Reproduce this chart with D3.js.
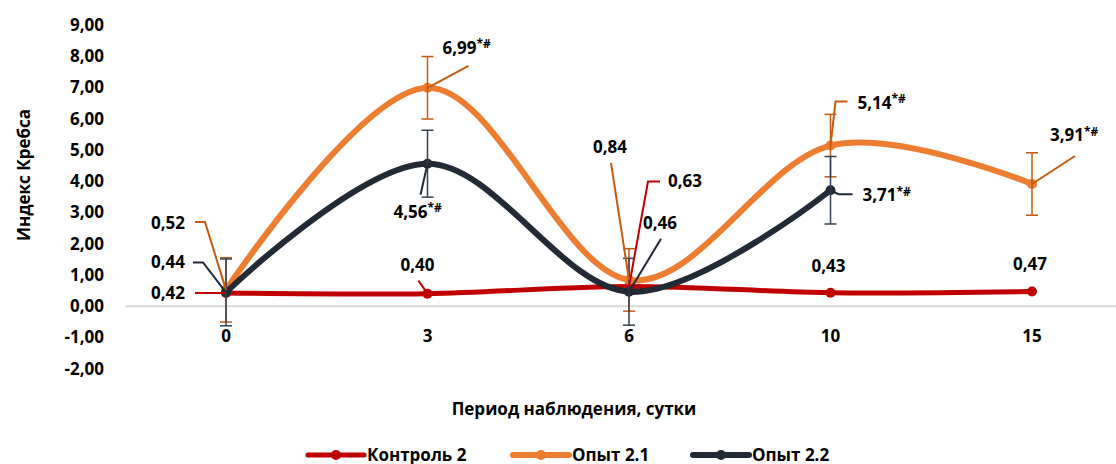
<!DOCTYPE html>
<html>
<head>
<meta charset="utf-8">
<script src="https://cdn.jsdelivr.net/npm/d3@7"></script>
<style>
  body { margin: 0; background: #fff; }
  text { font-family: "Open Sans", "DejaVu Sans", sans-serif; font-weight: bold; fill: #000; }
</style>
</head>
<body>
<div id="vis"></div>
<script>
// data
const days = ['0', '3', '6', '10', '15'];
const control2 = [0.42, 0.40, 0.63, 0.43, 0.47];
const exp21 = [0.52, 6.99, 0.84, 5.14, 3.91];
const exp22 = [0.44, 4.56, 0.46, 3.71, null];
const exp21Err = [1.03, 1.0, 1.0, 1.0, 1.0];
const exp22Err = [1.07, 1.07, 1.07, 1.08, null];
const yTicks = [-2, -1, 0, 1, 2, 3, 4, 5, 6, 7, 8, 9];
const control2Labels = ['0,42', '0,40', '0,63', '0,43', '0,47'];
const exp21Labels = ['0,52', '6,99', '0,84', '5,14', '3,91'];
const exp22Labels = ['0,44', '4,56', '0,46', '3,71', null];
const exp21Marks = [false, true, false, true, true];
const exp22Marks = [false, true, false, true, false];

const W = 1116, H = 464;
// excel style: comma decimal, plain hyphen minus
const fmt = v => d3.format('.2f')(v).replace('.', ',').replace('\u2212', '-');

const svg = d3.select('#vis')
  .append('svg')
  .attr('width', W)
  .attr('height', H);

// scales
const xScale = d3.scalePoint()
  .domain(days)
  .range([226, 1032]);

const yScale = d3.scaleLinear()
  .domain([-2, 9])
  .range([368.6, 25]);

// zero line
svg.append('line')
  .attr('x1', 125).attr('x2', W)
  .attr('y1', yScale(0)).attr('y2', yScale(0))
  .attr('stroke', '#d9d9d9')
  .attr('stroke-width', 2);

// y tick labels
svg.selectAll('.ytick')
  .data(yTicks)
  .join('text')
  .attr('class', 'ytick')
  .attr('x', 104)
  .attr('y', d => yScale(d))
  .attr('dy', '0.35em')
  .attr('text-anchor', 'end')
  .style('font-size', '17px')
  .text(d => fmt(d));

// x tick labels
svg.selectAll('.xtick')
  .data(days)
  .join('text')
  .attr('class', 'xtick')
  .attr('x', d => xScale(d))
  .attr('y', 336)
  .attr('dy', '0.35em')
  .attr('text-anchor', 'middle')
  .style('font-size', '17px')
  .text(d => d);

// axis titles
svg.append('text')
  .attr('x', 574)
  .attr('y', 409)
  .attr('dy', '0.35em')
  .attr('text-anchor', 'middle')
  .style('font-size', '17px')
  .text('Период наблюдения, сутки');

svg.append('text')
  .attr('transform', 'translate(24,175) rotate(-90)')
  .attr('dy', '0.35em')
  .attr('text-anchor', 'middle')
  .style('font-size', '17px')
  .text('Индекс Кребса');

const series = [
  {name: 'Контроль 2', values: control2, err: null, color: '#c00000', lead: '#c00000', bar: '#c00000', width: 5,
   labels: control2Labels, marks: [false, false, false, false, false]},
  {name: 'Опыт 2.1', values: exp21, err: exp21Err, color: '#ed7d31', lead: '#c55a11', bar: '#c55a11', width: 6,
   labels: exp21Labels, marks: exp21Marks},
  {name: 'Опыт 2.2', values: exp22, err: exp22Err, color: '#222a35', lead: '#222a35', bar: '#333f50', width: 6,
   labels: exp22Labels, marks: exp22Marks}
];

// label placement, offsets in px from the point: [text dx, text dy, anchor, leader points]
const labelLayout = [
  [[-41, 0, 'end', [[-31, 0], [0, 0]]],
   [-10, -29, 'middle', [[-9, -13], [0, 0]]],
   [39, -105, 'start', [[31, -105], [19, -105], [0, 0]]],
   [-2, -27, 'middle', null],
   [-2, -27, 'middle', null]],
  [[-41, -67, 'end', [[-31, -68], [-21, -68], [0, 0]]],
   [15, -40, 'start', [[41, -22], [0, 0]]],
   [-19, -133, 'middle', [[-18, -117], [0, 0]]],
   [27, -43, 'start', [[17, -44], [5, -44], [0, 0]]],
   [18, -49, 'start', [[43, -28], [0, 0]]]],
  [[-41, -30, 'end', [[-33, -30], [-23, -30], [0, 0]]],
   [-34, 48, 'start', [[-7, 31], [0, 0]]],
   [14, -69, 'start', [[32, -53], [0, 0]]],
   [32, 5, 'start', [[22, 4], [8, 4], [0, 0]]],
   null]
];

const line = d3.line()
  .defined(d => d.v != null)
  .x(d => xScale(d.day))
  .y(d => yScale(d.v))
  .curve(d3.curveCardinal.tension(0));

series.forEach((s, si) => {
  const pts = s.values.map((v, i) => ({day: days[i], v: v, e: s.err ? s.err[i] : null}))
    .filter(d => d.v != null);
  const g = svg.append('g');

  g.append('path')
    .datum(pts)
    .attr('d', line)
    .attr('fill', 'none')
    .attr('stroke', s.color)
    .attr('stroke-width', s.width)
    .attr('stroke-linecap', 'round');

  g.selectAll('circle')
    .data(pts)
    .join('circle')
    .attr('cx', d => xScale(d.day))
    .attr('cy', d => yScale(d.v))
    .attr('r', 5)
    .attr('fill', s.color);

  // error bars
  if (s.err) {
    const eb = g.selectAll('.eb')
      .data(pts.filter(d => d.e != null))
      .join('g')
      .attr('class', 'eb')
      .attr('stroke', s.bar)
      .attr('stroke-width', 1.5);
    eb.append('line')
      .attr('x1', d => xScale(d.day)).attr('x2', d => xScale(d.day))
      .attr('y1', d => yScale(d.v + d.e)).attr('y2', d => yScale(d.v - d.e));
    eb.append('line')
      .attr('x1', d => xScale(d.day) - 6).attr('x2', d => xScale(d.day) + 6)
      .attr('y1', d => yScale(d.v + d.e)).attr('y2', d => yScale(d.v + d.e));
    eb.append('line')
      .attr('x1', d => xScale(d.day) - 6).attr('x2', d => xScale(d.day) + 6)
      .attr('y1', d => yScale(d.v - d.e)).attr('y2', d => yScale(d.v - d.e));
  }
});

// data labels and leader lines on top
series.forEach((s, si) => {
  s.values.forEach((v, i) => {
    if (v == null || !labelLayout[si][i]) return;
    const [dx, dy, anchor, leader] = labelLayout[si][i];
    const px = xScale(days[i]), py = yScale(v);
    if (leader) {
      svg.append('polyline')
        .attr('points', leader.map(p => [px + p[0], py + p[1]].join(',')).join(' '))
        .attr('fill', 'none')
        .attr('stroke', s.lead)
        .attr('stroke-width', 2);
    }
    const t = svg.append('text')
      .attr('x', px + dx)
      .attr('y', py + dy)
      .attr('dy', '0.35em')
      .attr('text-anchor', anchor)
      .style('font-size', '17px');
    t.append('tspan').text(s.labels[i]);
    if (s.marks[i]) {
      t.append('tspan')
        .attr('dy', '-0.45em')
        .style('font-size', '12px')
        .text('*#');
    }
  });
});

// legend
const legendX = [308, 513, 693];
series.forEach((s, si) => {
  const lg = svg.append('g').attr('transform', `translate(${legendX[si]},455)`);
  lg.append('line')
    .attr('x1', 0).attr('x2', 56)
    .attr('stroke', s.color)
    .attr('stroke-width', s.width)
    .attr('stroke-linecap', 'round');
  lg.append('circle').attr('cx', 28).attr('r', 5).attr('fill', s.color);
  lg.append('text')
    .attr('x', 59)
    .attr('dy', '0.35em')
    .style('font-size', '17px')
    .text(s.name);
});
</script>
</body>
</html>
